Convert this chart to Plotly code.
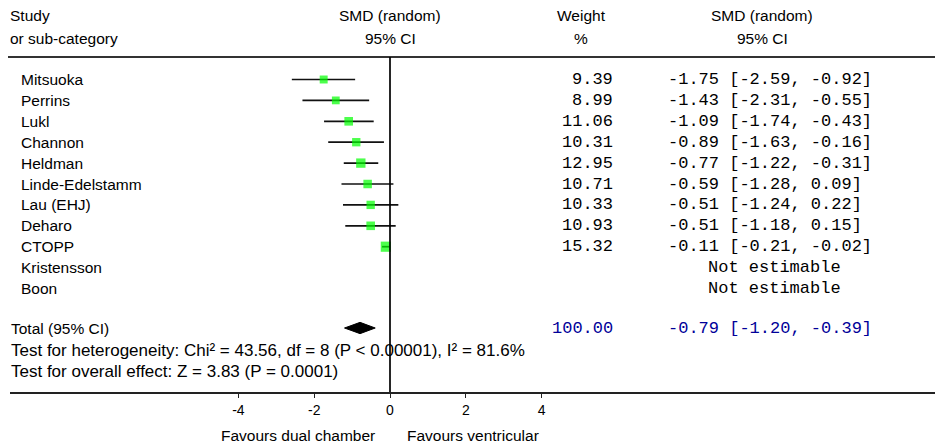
import plotly.graph_objects as go

# ---- data ----
studies = ["Mitsuoka", "Perrins", "Lukl", "Channon", "Heldman", "Linde-Edelstamm",
           "Lau (EHJ)", "Deharo", "CTOPP", "Kristensson", "Boon"]
weights = [9.39, 8.99, 11.06, 10.31, 12.95, 10.71, 10.33, 10.93, 15.32, None, None]
smd = [-1.75, -1.43, -1.09, -0.89, -0.77, -0.59, -0.51, -0.51, -0.11, None, None]
ci_low = [-2.59, -2.31, -1.74, -1.63, -1.22, -1.28, -1.24, -1.18, -0.21, None, None]
ci_high = [-0.92, -0.55, -0.43, -0.16, -0.31, 0.09, 0.22, 0.15, -0.02, None, None]
total_weight = 100.00
total_smd, total_low, total_high = -0.79, -1.20, -0.39
tick_vals = [-4, -2, 0, 2, 4]
het_text = "Test for heterogeneity: Chi\u00b2 = 43.56, df = 8 (P < 0.00001), I\u00b2 = 81.6%"
eff_text = "Test for overall effect: Z = 3.83 (P = 0.0001)"
left_label = "Favours dual chamber"
right_label = "Favours ventricular"

# ---- layout geometry ----
W, H = 935, 443
PLOT_BOTTOM = 392          # px of axis line
ROW_PX = 20.9
ROW0_PX = 79.5
ZERO_PX = 390.0
UNIT_PX = 37.9
X_LEFT_PX = 10.0
TOP_LINE_PX = 57

def row_of(px):
    return (px - ROW0_PX) / ROW_PX

def px_x(px):
    return px / W

y_range = [row_of(PLOT_BOTTOM), row_of(0)]
x_range = [(X_LEFT_PX - ZERO_PX) / UNIT_PX, (W - ZERO_PX) / UNIT_PX]

rows = list(range(len(studies)))
total_row = row_of(328)
het_row = row_of(350)
eff_row = row_of(371)

SANS = "Liberation Sans, Arial, sans-serif"
MONO = "Liberation Mono, Courier New, monospace"
SANS_SIZE = 15.5
FOOT_SIZE = 17
TICK_SIZE = 14
MONO_SIZE = 17
BLUE = "#000099"

fig = go.Figure()

# study estimates with CIs
idx = [i for i in rows if smd[i] is not None]
fig.add_trace(go.Scatter(
    x=[smd[i] for i in idx],
    y=[rows[i] for i in idx],
    mode="markers",
    marker=dict(symbol="square", color="#00ff00",
                size=[2.6 * weights[i] ** 0.5 for i in idx], line=dict(width=0)),
    error_x=dict(type="data", symmetric=False,
                 array=[ci_high[i] - smd[i] for i in idx],
                 arrayminus=[smd[i] - ci_low[i] for i in idx],
                 color="#111111", thickness=1.7, width=0),
    hoverinfo="skip", showlegend=False, cliponaxis=False,
))

# total diamond
dh = 0.27
fig.add_trace(go.Scatter(
    x=[total_low, total_smd, total_high, total_smd, total_low],
    y=[total_row, total_row - dh, total_row, total_row + dh, total_row],
    mode="lines", fill="toself", fillcolor="black",
    line=dict(color="black", width=1), hoverinfo="skip", showlegend=False,
))

ann = []
def txt(x, y, s, anchor="left", font=SANS, size=SANS_SIZE, color="black", yref="y"):
    ann.append(dict(x=x, y=y, xref="paper", yref=yref, text=s, showarrow=False,
                    xanchor=anchor, yanchor="middle",
                    font=dict(family=font, size=size, color=color)))

# headers
txt(px_x(8), row_of(15), "Study")
txt(px_x(8), row_of(38), "or sub-category")
txt(px_x(390), row_of(15), "SMD (random)", "center")
txt(px_x(390), row_of(38), "95% CI", "center")
txt(px_x(581), row_of(15), "Weight", "center")
txt(px_x(581), row_of(38), "%", "center")
txt(px_x(762), row_of(15), "SMD (random)", "center")
txt(px_x(762), row_of(38), "95% CI", "center")

for i in rows:
    txt(px_x(19), rows[i], studies[i])
    if smd[i] is not None:
        txt(px_x(615), rows[i], f"{weights[i]:.2f}", "right", MONO, MONO_SIZE)
        txt(px_x(666), rows[i], f"{smd[i]:.2f} [{ci_low[i]:.2f}, {ci_high[i]:.2f}]",
            "left", MONO, MONO_SIZE)
    else:
        txt(px_x(774), rows[i], "Not estimable", "center", MONO, MONO_SIZE)

txt(px_x(9), total_row, "Total (95% CI)")
txt(px_x(615), total_row, f"{total_weight:.2f}", "right", MONO, MONO_SIZE, BLUE)
txt(px_x(666), total_row, f"{total_smd:.2f} [{total_low:.2f}, {total_high:.2f}]",
    "left", MONO, MONO_SIZE, BLUE)
txt(px_x(9), het_row, het_text, size=FOOT_SIZE)
txt(px_x(9), eff_row, eff_text, size=FOOT_SIZE)

fav_y = -(435 - PLOT_BOTTOM) / PLOT_BOTTOM
txt(px_x(377), fav_y, left_label, "right", yref="paper")
txt(px_x(405), fav_y, right_label, "left", yref="paper")

shapes = [
    dict(type="line", xref="paper", yref="y", x0=px_x(8), x1=1,
         y0=row_of(TOP_LINE_PX), y1=row_of(TOP_LINE_PX),
         line=dict(color="#333333", width=2)),
    dict(type="line", xref="x", yref="y", x0=0, x1=0,
         y0=row_of(TOP_LINE_PX), y1=y_range[0], line=dict(color="black", width=1.7)),
]

fig.update_layout(
    width=W, height=H,
    margin=dict(l=0, r=0, t=0, b=H - PLOT_BOTTOM, pad=0),
    paper_bgcolor="white", plot_bgcolor="white",
    annotations=ann, shapes=shapes,
    xaxis=dict(domain=[X_LEFT_PX / W, 1], range=x_range, tickvals=tick_vals,
               ticktext=[str(v) for v in tick_vals],
               showgrid=False, zeroline=False, showline=True, linecolor="#222222",
               linewidth=2, ticks="outside", ticklen=4, tickcolor="#222222",
               tickfont=dict(family=SANS, size=TICK_SIZE, color="black")),
    yaxis=dict(range=y_range, visible=False, showgrid=False, zeroline=False),
)

fig.write_html("out.html", config={"displayModeBar": False},
               post_script="document.body.style.margin='0';document.body.style.padding='0';")
